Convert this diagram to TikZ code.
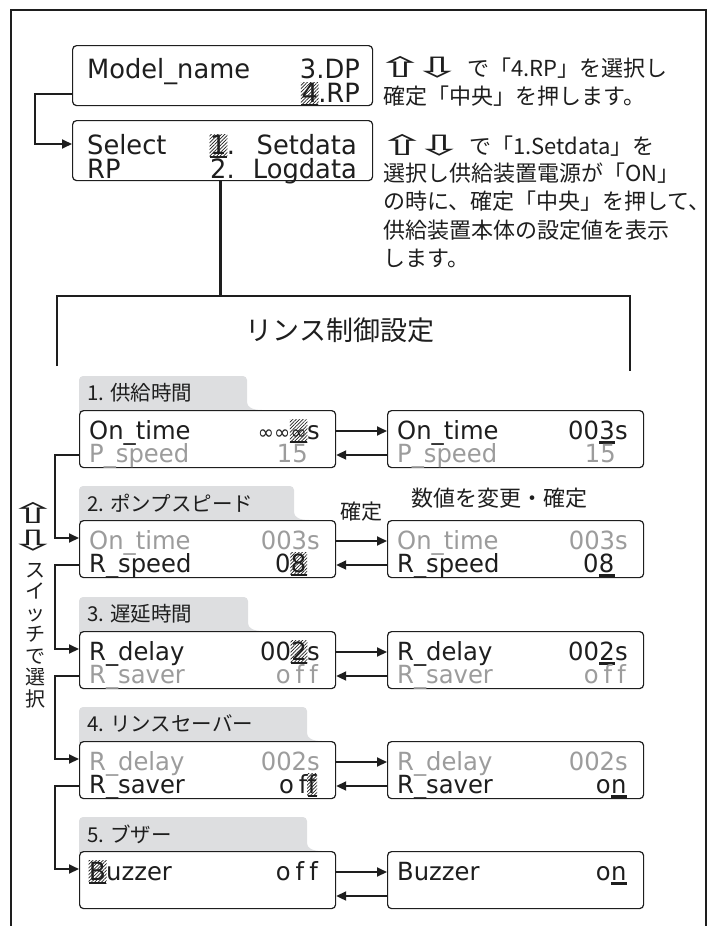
\documentclass[tikz,border=0pt]{standalone}
\usepackage{fontspec}
\setmainfont{DejaVu Sans}[FakeStretch=0.97]
\newfontfamily\jp{Noto Sans CJK JP}
\newfontfamily\symf{DejaVu Sans}
\usetikzlibrary{arrows.meta,patterns.meta,calc}
\definecolor{tabgray}{HTML}{DDDEE0}
\definecolor{lcdgray}{HTML}{9C9C9C}
\definecolor{ink}{HTML}{1E1E1E}
\tikzset{
 lcdbox/.style={draw=ink, line width=1.2pt, rounded corners=4pt, fill=white, inner sep=0pt, anchor=north west, minimum width=256pt, minimum height=57pt},
 lcd/.style={inner sep=0pt, font=\fontsize{25}{26}\selectfont, text=ink},
 lcdbig/.style={inner sep=0pt, font=\fontsize{26.5}{27}\selectfont, text=ink},
 dim/.style={lcd, text=lcdgray},
 conn/.style={draw=ink, line width=2pt},
 arrow/.style={conn, -{Triangle[length=10pt,width=9pt]}},
 hatch/.style={pattern={Lines[angle=45,distance=2.4pt,line width=0.7pt]}, pattern color=ink},
 uline/.style={line width=2.6pt, draw=ink},
 jptext/.style={inner sep=0pt, font=\jp\fontsize{22}{28}\selectfont, text=ink},
 tablabel/.style={inner sep=0pt, font=\jp\fontsize{20.5}{21}\selectfont, text=ink, anchor=west},
 keyarrow/.style={inner sep=0pt, text=ink},
}
\newcommand\kup{\makebox[20pt][c]{\symf\fontsize{28}{28}\selectfont\raisebox{-1pt}{\scalebox{2.1}[1.0]{⇧}}}}
\newcommand\kdn{\makebox[20pt][c]{\symf\fontsize{28}{28}\selectfont\raisebox{-1pt}{\scalebox{2.1}[1.0]{⇩}}}}
\newcommand\infsym{{\fontsize{20}{20}\selectfont ∞}}
\newcommand\hatchcell[1]{%
 \fill[hatch] ($(#1.base west)+(-0.5,3.5)$) rectangle ($(#1.base east)+(0.5,-20)$);
 \draw[uline] ($(#1.base west)+(0,3)$) -- ($(#1.base east)+(0,3)$);}
\newcommand\ulcell[1]{%
 \draw[uline] ($(#1.base west)+(0,3.5)$) -- ($(#1.base east)+(0,3.5)$);}
\newcommand\markval[8]{%
 \node[#7, anchor=base east] (#1s) at (#2,#3) {#6};
 \node[#7, anchor=base east] (#1h) at (#1s.base west) {#5};
 \node[#7, anchor=base east] (#1p) at (#1h.base west) {#4};
 #8{#1h}}
\newcommand\tabshape[4]{%
 \fill[tabgray, rounded corners=4pt] (79,#1+2) -- (79,#1-34) -- (#2,#1-34) -- (#2,#1-12) [sharp corners] .. controls (#2,#1-3) and (#2+5,#1) .. (#2+15,#1) -- (#2+15,#1+2) -- cycle;
 \node[tablabel] (#4) at (87,#1-17) {#3};}
\newcommand\off{o\hspace{5pt}f\hspace{5pt}f}
\begin{document}
\begin{tikzpicture}[x=1pt,y=-1pt]
\useasboundingbox (0,0) rectangle (716,926);
\draw[line width=2.6pt, draw=ink] (11,926) -- (11,10) -- (706,10) -- (706,926);

% ---- top menu boxes
\node[lcdbox, minimum width=300pt, minimum height=60pt] (mbox) at (72,45) {};
\node[lcdbig, anchor=base west] (mname) at (87,78) {Model\_name};
\node[lcdbig, anchor=base east] (mdp) at (360,78) {3.DP};
\markval{mrp}{360}{102}{}{4}{.RP}{lcdbig}{\hatchcell}

\node[lcdbox, minimum width=300pt, minimum height=60pt] (sbox) at (72,120) {};
\node[lcdbig, anchor=base west] (ssel) at (87,154) {Select};
\node[lcdbig, anchor=base west] (srp) at (87,178) {RP};
\node[lcdbig, anchor=base west] (s1) at (210,154) {1};
\node[lcdbig, anchor=base west] (s1d) at (s1.base east) {.};
\hatchcell{s1}
\node[lcdbig, anchor=base east] (sset) at (357,154) {Setdata};
\node[lcdbig, anchor=base west] (s2) at (210,178) {2.};
\node[lcdbig, anchor=base east] (slog) at (357,178) {Logdata};

\draw[arrow] ($(mbox.south west)+(0,-12)$) -- ++(-37,0) |- ($(sbox.north west)+(0,24)$);

\node[jptext, anchor=west] (t1a) at (390,67) {\kup\hspace{17pt}\kdn\hspace{20pt}で「4.RP」を選択し};
\node[jptext, anchor=west] (t1b) at (383,96) {確定「中央」を押します。};
\node[jptext, anchor=west] (t2a) at (392,145) {\kup\hspace{17pt}\kdn\hspace{20pt}で「1.Setdata」を};
\node[jptext, anchor=west] (t2b) at (383,173) {選択し供給装置電源が「ON」};
\node[jptext, anchor=west] (t2c) at (383,201) {の時に、確定「中央」を押して、};
\node[jptext, anchor=west] (t2d) at (383,230) {供給装置本体の設定値を表示};
\node[jptext, anchor=west] (t2e) at (383,258) {します。};

% ---- bracket
\coordinate (btop) at (220,296);
\draw[line width=3pt, draw=ink] (sbox.south -| btop) -- (btop);
\draw[line width=1.4pt, draw=ink] (57,366) -- (57,296) -- (630,296) -- (630,371);
\node[jptext, font=\jp\fontsize{27}{30}\selectfont] (title) at (340,330) {リンス制御設定};

% ---- section tabs
\tabshape{410}{247}{1. 供給時間}{tab1}
\tabshape{520}{294}{2. ポンプスピード}{tab2}
\tabshape{631}{248}{3. 遅延時間}{tab3}
\tabshape{741}{307}{4. リンスセーバー}{tab4}
\tabshape{851}{307}{5. ブザー}{tab5}

% ---- boxes
\node[lcdbox] (L1) at (79,410) {};  \node[lcdbox] (R1) at (387,410) {};
\node[lcdbox] (L2) at (79,520) {};  \node[lcdbox] (R2) at (387,520) {};
\node[lcdbox] (L3) at (79,631) {};  \node[lcdbox] (R3) at (387,631) {};
\node[lcdbox] (L4) at (79,741) {};  \node[lcdbox] (R4) at (387,741) {};
\node[lcdbox] (L5) at (79,851) {};  \node[lcdbox] (R5) at (387,851) {};

% section 1
\node[lcd, anchor=base west] (l1a) at (89,439) {On\_time};
\markval{v1}{320}{439}{\infsym\infsym}{\infsym}{s}{lcd}{\hatchcell}
\node[dim, anchor=base west] (l1b) at (89,462) {P\_speed};
\node[dim, anchor=base east] (l1c) at (308,462) {15};
\node[lcd, anchor=base west] (r1a) at (397,439) {On\_time};
\markval{w1}{628}{439}{00}{3}{s}{lcd}{\ulcell}
\node[dim, anchor=base west] (r1b) at (397,462) {P\_speed};
\node[dim, anchor=base east] (r1c) at (616,462) {15};
% section 2
\node[dim, anchor=base west] (l2a) at (89,549) {On\_time};
\node[dim, anchor=base east] (l2v) at (320,549) {003s};
\node[lcd, anchor=base west] (l2b) at (89,572) {R\_speed};
\markval{v2}{308}{572}{0}{8}{}{lcd}{\hatchcell}
\node[dim, anchor=base west] (r2a) at (397,549) {On\_time};
\node[dim, anchor=base east] (r2v) at (628,549) {003s};
\node[lcd, anchor=base west] (r2b) at (397,572) {R\_speed};
\markval{w2}{616}{572}{0}{8}{}{lcd}{\ulcell}
% section 3
\node[lcd, anchor=base west] (l3a) at (89,660) {R\_delay};
\markval{v3}{320}{660}{00}{2}{s}{lcd}{\hatchcell}
\node[dim, anchor=base west] (l3b) at (89,683) {R\_saver};
\node[dim, anchor=base east] (l3c) at (318,683) {\off};
\node[lcd, anchor=base west] (r3a) at (397,660) {R\_delay};
\markval{w3}{628}{660}{00}{2}{s}{lcd}{\ulcell}
\node[dim, anchor=base west] (r3b) at (397,683) {R\_saver};
\node[dim, anchor=base east] (r3c) at (626,683) {\off};
% section 4
\node[dim, anchor=base west] (l4a) at (89,770) {R\_delay};
\node[dim, anchor=base east] (l4v) at (320,770) {002s};
\node[lcd, anchor=base west] (l4b) at (89,793) {R\_saver};
\markval{v4}{318}{793}{o\hspace{5pt}f\hspace{5pt}}{f}{}{lcd}{\hatchcell}
\node[dim, anchor=base west] (r4a) at (397,770) {R\_delay};
\node[dim, anchor=base east] (r4v) at (628,770) {002s};
\node[lcd, anchor=base west] (r4b) at (397,793) {R\_saver};
\markval{w4}{628}{793}{o}{n}{}{lcd}{\ulcell}
% section 5
\node[lcd, anchor=base west] (v5h) at (89,880) {B};
\node[lcd, anchor=base west] (v5s) at (v5h.base east) {uzzer};
\hatchcell{v5h}
\node[lcd, anchor=base east] (l5c) at (318,880) {\off};
\node[lcd, anchor=base west] (r5a) at (397,880) {Buzzer};
\markval{w5}{628}{880}{o}{n}{}{lcd}{\ulcell}

% ---- horizontal arrows
\foreach \i in {1,...,5}{
 \draw[arrow] ($(L\i.north east)+(0,21)$) -- ($(R\i.north west)+(0,21)$);
 \draw[arrow] ($(R\i.north west)+(0,45)$) -- ($(L\i.north east)+(0,45)$);
}
% ---- left chain
\foreach \i/\j in {1/2,2/3,3/4,4/5}{
 \draw[arrow] ($(L\i.north west)+(0,45)$) -- ++(-24,0) |- ($(L\j.north west)+(0,18)$);
}

\node[jptext, font=\jp\fontsize{21}{21}\selectfont] (kakutei) at (361,512) {確定};
\node[jptext] (henko) at (499,498) {数値を変更・確定};

% ---- left side labels
\node[keyarrow] (upk) at (33,513) {\kup};
\node[keyarrow] (dnk) at (33,541) {\kdn};
\node[jptext, font=\jp\fontsize{20}{21.5}\selectfont, align=center, anchor=north] (sw) at (35,563) {ス\\イ\\ッ\\チ\\で\\選\\択};
\end{tikzpicture}
\end{document}
